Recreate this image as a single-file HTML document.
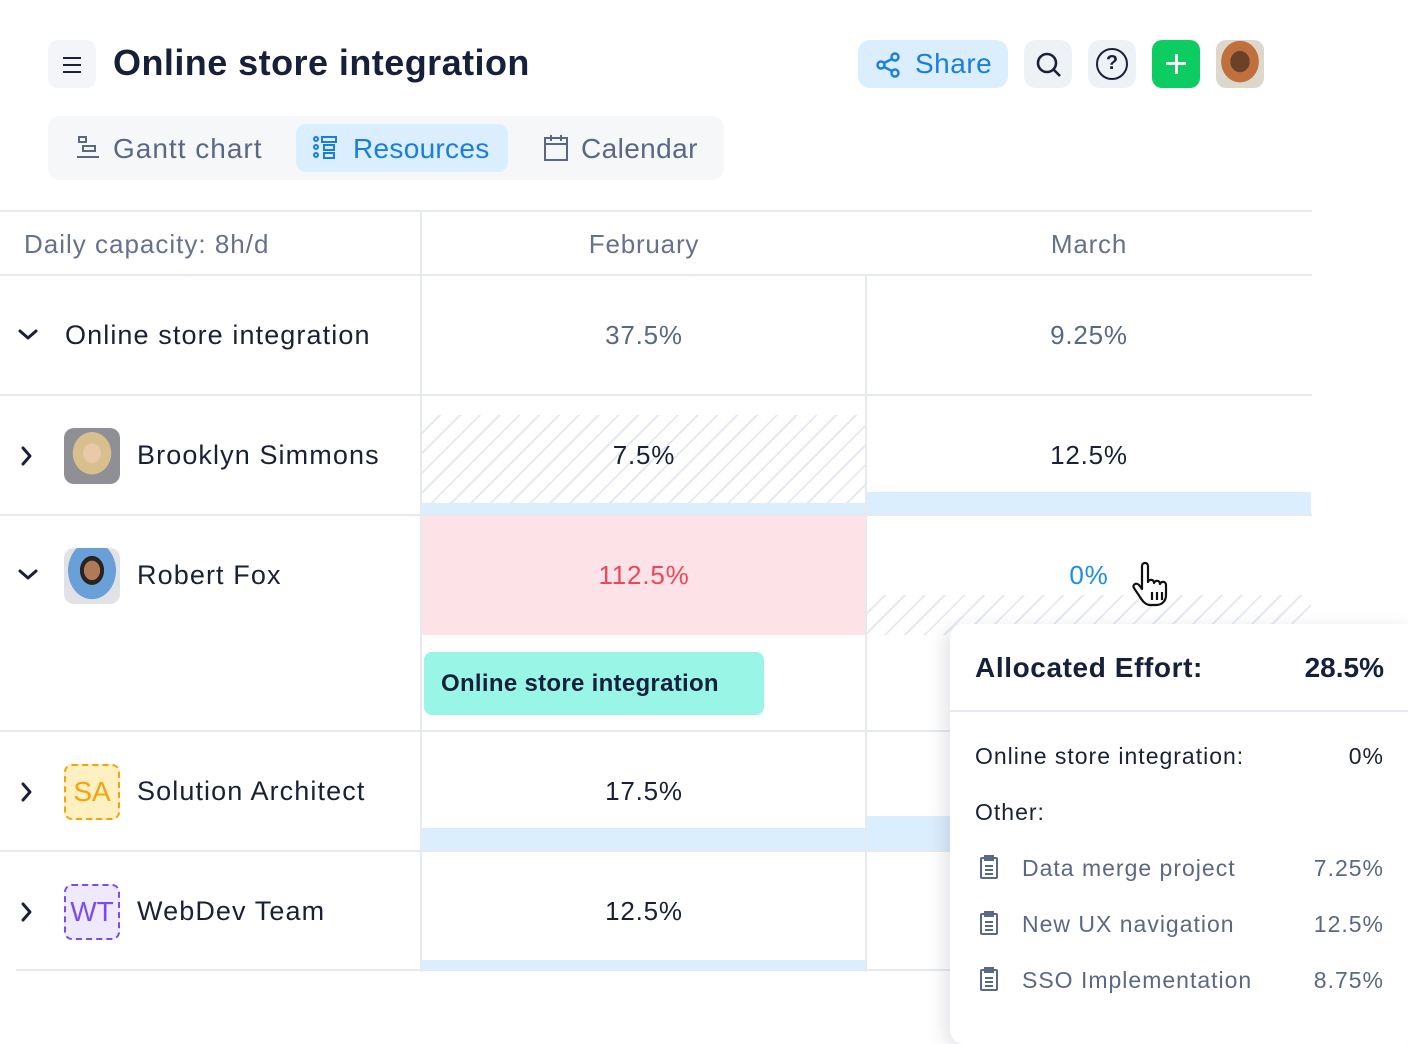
<!DOCTYPE html>
<html><head><meta charset="utf-8"><style>
*{box-sizing:border-box;margin:0;padding:0}
body{width:1408px;height:1024px;background:#fff;font-family:"Liberation Sans",sans-serif;position:relative;overflow:hidden;color:#1a2136}
.a{position:absolute}
.t{position:absolute;white-space:nowrap}
.hatch{background:repeating-linear-gradient(135deg,#fff 0 12px,#e6e9f1 12px 14px)}
.c{text-align:center;font-size:26px;color:#1a2136;letter-spacing:.8px}
.hl{background:#e6e9ef}
.blue{background:#dbeefd}
.name{font-size:27px;color:#1a2136;letter-spacing:1.1px}
.tt{font-size:23px;letter-spacing:1px}
.av{position:absolute;width:56px;height:56px;border-radius:10px}
</style></head><body>
<!-- header -->
<div class="a" style="left:48px;top:40px;width:48px;height:48px;border-radius:10px;background:#f3f5f8"></div>
<div class="a" style="left:63px;top:57px;width:18px;height:2px;background:#1a2136"></div>
<div class="a" style="left:63px;top:64px;width:18px;height:2px;background:#1a2136"></div>
<div class="a" style="left:63px;top:71px;width:18px;height:2px;background:#1a2136"></div>
<div class="t" style="left:113px;top:42px;font-size:36px;font-weight:bold;color:#16203a;letter-spacing:.45px">Online store integration</div>

<div class="a" style="left:858px;top:40px;width:150px;height:48px;border-radius:12px;background:#dbeefd"></div>
<svg class="a" style="left:874px;top:50px" width="30" height="30" viewBox="0 0 30 30" fill="none" stroke="#1a7ee0" stroke-width="2.4"><circle cx="21" cy="7" r="3.5"/><circle cx="7" cy="15" r="3.5"/><circle cx="21" cy="23" r="3.5"/><path d="M10 13l8-4M10 17l8 4"/></svg>
<div class="t" style="left:915px;top:48px;font-size:28px;color:#1a7ee0;letter-spacing:.5px">Share</div>
<div class="a" style="left:1024px;top:40px;width:48px;height:48px;border-radius:12px;background:#eef2f7"></div>
<svg class="a" style="left:1034px;top:50px" width="30" height="30" viewBox="0 0 30 30" fill="none" stroke="#1a2136" stroke-width="2.6"><circle cx="13" cy="13" r="9"/><path d="M20 20l6 6"/></svg>
<div class="a" style="left:1088px;top:40px;width:48px;height:48px;border-radius:12px;background:#eef2f7"></div>
<div class="a" style="left:1096px;top:48px;width:32px;height:32px;border-radius:50%;border:2.5px solid #1a2136;text-align:center;font-size:20px;font-weight:bold;line-height:27px">?</div>
<div class="a" style="left:1152px;top:40px;width:48px;height:48px;border-radius:10px;background:#0ccc62"></div>
<div class="a" style="left:1166px;top:62px;width:20px;height:3px;background:#fff"></div>
<div class="a" style="left:1174.5px;top:54px;width:3px;height:20px;background:#fff"></div>
<div class="a" style="left:1216px;top:40px;width:48px;height:48px;border-radius:10px;background:radial-gradient(ellipse at 50% 45%,#6b4128 0 28%,#c0703d 29% 55%,#dcd8cc 56%)"></div>

<!-- tabs -->
<div class="a" style="left:48px;top:116px;width:676px;height:64px;border-radius:12px;background:#f5f7f9"></div>
<div class="a" style="left:296px;top:124px;width:212px;height:48px;border-radius:10px;background:#dbeefd"></div>
<svg class="a" style="left:74px;top:134px" width="28" height="28" viewBox="0 0 28 28" fill="none" stroke="#5b6885" stroke-width="2"><rect x="5" y="3" width="7" height="5"/><rect x="9" y="12" width="12" height="5"/><path d="M3 23h22"/></svg>
<div class="t" style="left:113px;top:133px;font-size:28px;color:#5b6885;letter-spacing:1px">Gantt chart</div>
<svg class="a" style="left:312px;top:134px" width="30" height="28" viewBox="0 0 30 28" fill="none" stroke="#1a7ee0" stroke-width="2"><circle cx="4" cy="5" r="2"/><circle cx="4" cy="13" r="2"/><circle cx="4" cy="21" r="2"/><rect x="10" y="3" width="14" height="5"/><rect x="12" y="11" width="10" height="5"/><rect x="12" y="19" width="10" height="5"/></svg>
<div class="t" style="left:353px;top:133px;font-size:28px;color:#1a7ee0;letter-spacing:.3px">Resources</div>
<svg class="a" style="left:542px;top:133px" width="28" height="30" viewBox="0 0 28 30" fill="none" stroke="#5b6885" stroke-width="2"><rect x="3" y="5" width="22" height="22"/><path d="M3 11h22M9 2v6M19 2v6"/></svg>
<div class="t" style="left:581px;top:133px;font-size:28px;color:#5b6885;letter-spacing:.4px">Calendar</div>

<!-- table lines -->
<div class="a hl" style="left:0;top:210px;width:1312px;height:2px"></div>
<div class="a hl" style="left:0;top:274px;width:1312px;height:2px"></div>
<div class="a hl" style="left:420px;top:210px;width:2px;height:762px"></div>
<div class="a hl" style="left:865px;top:275px;width:2px;height:697px"></div>
<div class="a hl" style="left:0;top:394px;width:1312px;height:2px"></div>
<div class="a hl" style="left:0;top:514px;width:1312px;height:2px"></div>
<div class="a hl" style="left:0;top:730px;width:1312px;height:2px"></div>
<div class="a hl" style="left:0;top:850px;width:1312px;height:2px"></div>
<div class="a hl" style="left:16px;top:969px;width:1296px;height:2px"></div>

<div class="t" style="left:24px;top:229px;font-size:26px;color:#66718c;letter-spacing:1px">Daily capacity: 8h/d</div>
<div class="t c" style="left:422px;width:444px;top:229px;color:#66718c">February</div>
<div class="t c" style="left:867px;width:444px;top:229px;color:#66718c">March</div>

<!-- chevrons -->
<svg class="a" style="left:0;top:0" width="60" height="1024" fill="none" stroke="#1a2136" stroke-width="3" stroke-linecap="round" stroke-linejoin="round">
<path d="M20 331l8 7 8-7"/>
<path d="M23 448l7 8-7 8"/>
<path d="M20 571l8 7 8-7"/>
<path d="M23 784l7 8-7 8"/>
<path d="M23 904l7 8-7 8"/>
</svg>

<!-- row1 -->
<div class="t name" style="left:65px;top:320px">Online store integration</div>
<div class="t c" style="left:422px;width:444px;top:320px;color:#5b6885">37.5%</div>
<div class="t c" style="left:867px;width:444px;top:320px;color:#5b6885">9.25%</div>

<!-- row2 -->
<div class="a hatch" style="left:422px;top:415px;width:443px;height:88px"></div>
<div class="a blue" style="left:422px;top:503px;width:443px;height:11px"></div>
<div class="a blue" style="left:867px;top:492px;width:444px;height:22px"></div>
<div class="av" style="left:64px;top:428px;background:radial-gradient(ellipse at 50% 45%,#e8c9a8 0 22%,#d8c08e 23% 48%,#8f9096 49%)"></div>
<div class="t name" style="left:137px;top:440px">Brooklyn Simmons</div>
<div class="t c" style="left:422px;width:444px;top:440px">7.5%</div>
<div class="t c" style="left:867px;width:444px;top:440px">12.5%</div>

<!-- row3 -->
<div class="a" style="left:422px;top:516px;width:443px;height:119px;background:#fde3e7"></div>
<div class="a hatch" style="left:867px;top:595px;width:444px;height:40px"></div>
<div class="av" style="left:64px;top:548px;background:radial-gradient(ellipse at 50% 40%,#b07a58 0 20%,#2a2420 21% 30%,#6aa0d8 31% 60%,#e0e2e6 61%)"></div>
<div class="t name" style="left:137px;top:560px">Robert Fox</div>
<div class="t c" style="left:422px;width:444px;top:560px;color:#f0455c">112.5%</div>
<div class="t c" style="left:867px;width:444px;top:560px;color:#1a8cf0">0%</div>
<svg class="a" style="left:1132px;top:560px" width="44" height="48" viewBox="0 0 44 48" fill="#fff" stroke="#111" stroke-width="2.2" stroke-linejoin="round"><path d="M10 6c0-4 6-4 6 0v16c1-3 6-3 6 1 1-3 6-3 6 1 1-3 6-3 6 1v10c0 6-4 10-10 10h-6c-4 0-7-3-10-8l-6-9c-2-3 2-6 5-3l3 4z"/><path d="M20 32v8M25 32v8M30 32v8"/></svg>
<div class="a" style="left:424px;top:652px;width:340px;height:63px;border-radius:8px;background:#99f5e6"></div>
<div class="t" style="left:441px;top:670px;font-size:24px;font-weight:bold;color:#16203a;letter-spacing:.3px">Online store integration</div>

<!-- row4 -->
<div class="a blue" style="left:422px;top:828px;width:443px;height:22px"></div>
<div class="a blue" style="left:867px;top:816px;width:100px;height:34px"></div>
<div class="a" style="left:64px;top:764px;width:56px;height:56px;border-radius:8px;border:2px dashed #f7a20c;background:#fff0c2;color:#f7a20c;font-size:28px;text-align:center;line-height:52px">SA</div>
<div class="t name" style="left:137px;top:776px">Solution Architect</div>
<div class="t c" style="left:422px;width:444px;top:776px">17.5%</div>

<!-- row5 -->
<div class="a blue" style="left:422px;top:960px;width:443px;height:10px"></div>
<div class="a" style="left:64px;top:884px;width:56px;height:56px;border-radius:8px;border:2px dashed #7c4bf0;background:#efe9fd;color:#7c4bf0;font-size:28px;text-align:center;line-height:52px">WT</div>
<div class="t name" style="left:137px;top:896px">WebDev Team</div>
<div class="t c" style="left:422px;width:444px;top:896px">12.5%</div>

<!-- tooltip -->
<div class="a" style="left:950px;top:624px;width:470px;height:420px;border-radius:14px;background:#fff;box-shadow:-6px 4px 18px rgba(30,40,70,.12)"></div>
<div class="t" style="left:975px;top:652px;font-size:28px;font-weight:bold;color:#16203a;letter-spacing:.6px">Allocated Effort:</div>
<div class="t" style="right:24px;top:652px;font-size:28px;font-weight:bold;color:#16203a">28.5%</div>
<div class="a hl" style="left:950px;top:710px;width:458px;height:2px"></div>
<div class="t tt" style="left:975px;top:743px">Online store integration:</div>
<div class="t tt" style="right:24px;top:743px">0%</div>
<div class="t tt" style="left:975px;top:799px">Other:</div>
<div class="t tt" style="left:1022px;top:855px;color:#5b6885">Data merge project</div>
<div class="t tt" style="right:24px;top:855px;color:#5b6885">7.25%</div>
<div class="t tt" style="left:1022px;top:911px;color:#5b6885">New UX navigation</div>
<div class="t tt" style="right:24px;top:911px;color:#5b6885">12.5%</div>
<div class="t tt" style="left:1022px;top:967px;color:#5b6885">SSO Implementation</div>
<div class="t tt" style="right:24px;top:967px;color:#5b6885">8.75%</div>
<svg class="a" style="left:978px;top:855px" width="22" height="140" viewBox="0 0 22 140" fill="none" stroke="#5b6885" stroke-width="2"><g><rect x="3" y="3" width="16" height="20" rx="1"/><path d="M7 1h8v4H7zM7 11h8M7 15h8M7 19h8"/></g><g transform="translate(0,56)"><rect x="3" y="3" width="16" height="20" rx="1"/><path d="M7 1h8v4H7zM7 11h8M7 15h8M7 19h8"/></g><g transform="translate(0,112)"><rect x="3" y="3" width="16" height="20" rx="1"/><path d="M7 1h8v4H7zM7 11h8M7 15h8M7 19h8"/></g></svg>
</body></html>
